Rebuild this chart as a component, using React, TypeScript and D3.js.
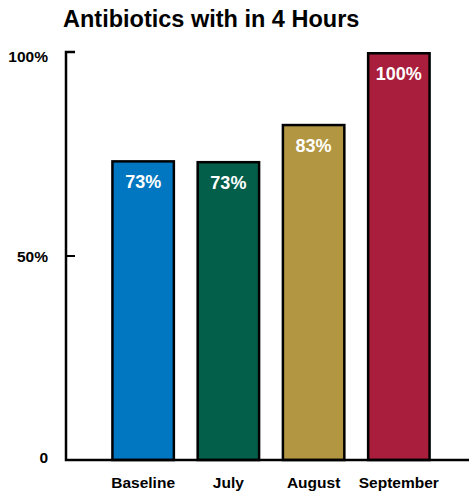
import React from "react";
import * as d3 from "d3";

const categories = ["Baseline", "July", "August", "September"];
const values = [73.5, 73.3, 82.4, 100];
const valueLabels = ["73%", "73%", "83%", "100%"];
const colors = ["#0077c0", "#035e4a", "#b39641", "#a91e3c"];
const yTicks = [0, 50, 100];
const yTickLabels = ["0", "50%", "100%"];

const W = 469;
const H = 491;
const FONT = "'Liberation Sans', Arial, Helvetica, sans-serif";

export default function App() {
  const y = d3.scaleLinear().domain([0, 100]).range([460, 52]);
  const x = d3
    .scaleBand<string>()
    .domain(categories)
    .range([66, 476])
    .paddingInner(0.25)
    .paddingOuter(0.53);
  const axisX = 66;
  const labelOffset = [3, 6, 10];
  return (
    <svg
      width={W}
      height={H}
      style={{ position: "absolute", left: 0, top: 0, background: "#fff" }}
      fontFamily={FONT}
    >
      <text x={63} y={27} fontSize={23.5} fontWeight="bold" fill="#000">
        Antibiotics with in 4 Hours
      </text>
      {categories.map((c, i) => {
        const x0 = x(c)!;
        const top = y(values[i]);
        return (
          <g key={c}>
            <rect
              x={x0 + 1.25}
              y={top + 1.25}
              width={x.bandwidth() - 2.5}
              height={y(0) - top - 1.25}
              fill={colors[i]}
              stroke="#000"
              strokeWidth={2.5}
            />
            <text
              x={x0 + x.bandwidth() / 2}
              y={top + 28}
              textAnchor="middle"
              fontSize={18}
              fontWeight="bold"
              fill="#fff"
            >
              {valueLabels[i]}
            </text>
            <text
              x={x0 + x.bandwidth() / 2}
              y={488}
              textAnchor="middle"
              fontSize={15.5}
              fontWeight="bold"
              fill="#000"
            >
              {c}
            </text>
          </g>
        );
      })}
      <path
        d={`M${axisX + 9},${y(100)} H${axisX} V${y(0)} H${W}`}
        fill="none"
        stroke="#000"
        strokeWidth={2.5}
      />
      <line
        x1={axisX}
        x2={axisX + 9}
        y1={y(50)}
        y2={y(50)}
        stroke="#000"
        strokeWidth={2}
      />
      {yTicks.map((t, i) => (
        <text
          key={t}
          x={48}
          y={y(t) + labelOffset[i]}
          textAnchor="end"
          fontSize={15.5}
          fontWeight="bold"
          fill="#000"
        >
          {yTickLabels[i]}
        </text>
      ))}
    </svg>
  );
}
